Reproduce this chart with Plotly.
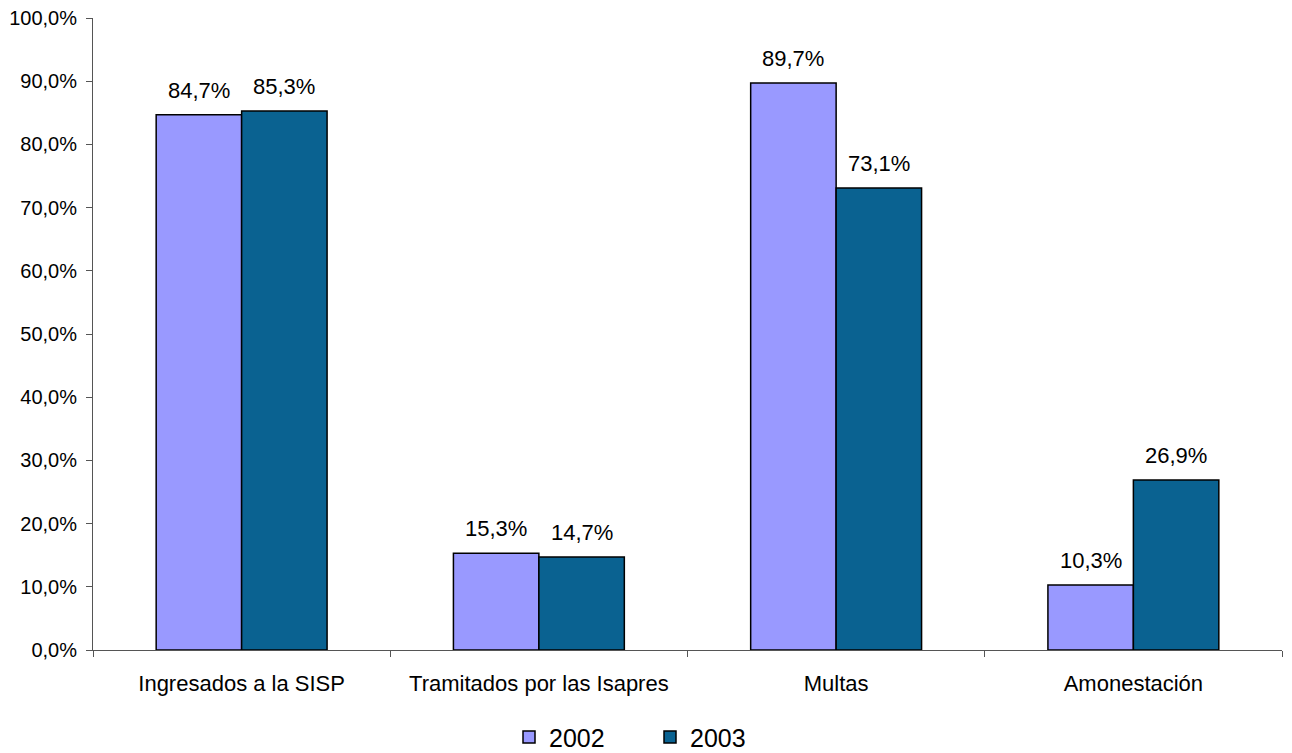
import plotly.graph_objects as go

categories = ["Ingresados a la SISP", "Tramitados por las Isapres", "Multas", "Amonestación"]
values_2002 = [0.847, 0.153, 0.897, 0.103]
values_2003 = [0.853, 0.147, 0.731, 0.269]
series_names = ["2002", "2003"]
colors = ["#9999FF", "#0A6291"]

FONT = "Liberation Sans, Arial, sans-serif"
# page body has an 8px margin, so the figure is drawn 8px smaller
W, H = 1284, 745
ML, MR, MT, MB = 85, 10, 10, 103
BARGAP = 0.425

fig = go.Figure()
series = [values_2002, values_2003]
for name, vals, col in zip(series_names, series, colors):
    fig.add_trace(go.Bar(
        x=categories, y=vals, name=name,
        marker=dict(color=col, line=dict(color="black", width=1.5)),
        cliponaxis=False,
    ))

# value labels above bars (offset to each bar within its group)
cat_w = (W - ML - MR) / len(categories)
bar_w = cat_w * (1 - BARGAP) / len(series)
for i, vals in enumerate(series):
    shift = (i - (len(series) - 1) / 2) * bar_w
    for c, v in zip(categories, vals):
        fig.add_annotation(
            x=c, y=v, xref="x", yref="y", xshift=shift, yshift=10,
            text=f"{v*100:.1f}%".replace(".", ","), showarrow=False,
            yanchor="bottom", font=dict(family=FONT, size=22, color="black"),
        )

fig.update_layout(
    width=W, height=H,
    separators=",.",
    barmode="group", bargap=BARGAP, bargroupgap=0,
    plot_bgcolor="white", paper_bgcolor="white",
    margin=dict(l=ML, r=MR, t=MT, b=MB, autoexpand=False),
    font=dict(family=FONT, size=20, color="black"),
    legend=dict(orientation="h", x=0.5, xanchor="center", xref="container",
                y=0.021, yanchor="middle", yref="container",
                font=dict(size=25, family=FONT), itemwidth=30,
                entrywidth=96, traceorder="normal"),
    showlegend=True,
)
fig.update_yaxes(range=[0, 1], dtick=0.1, tickformat=".1%", showgrid=False,
                 showline=True, linecolor="#555", linewidth=1,
                 ticks="outside", ticklen=6, tickcolor="#555", ticklabelstandoff=5,
                 ticklabeloverflow="allow",
                 tickfont=dict(size=20, family=FONT), zeroline=False, automargin=False)
fig.update_xaxes(showline=True, linecolor="#555", linewidth=1,
                 ticks="outside", ticklen=6, tickcolor="#555", tickson="boundaries",
                 ticklabelstandoff=14,
                 tickfont=dict(size=22, family=FONT), showgrid=False, automargin=False)

fig.write_html("out.html")
